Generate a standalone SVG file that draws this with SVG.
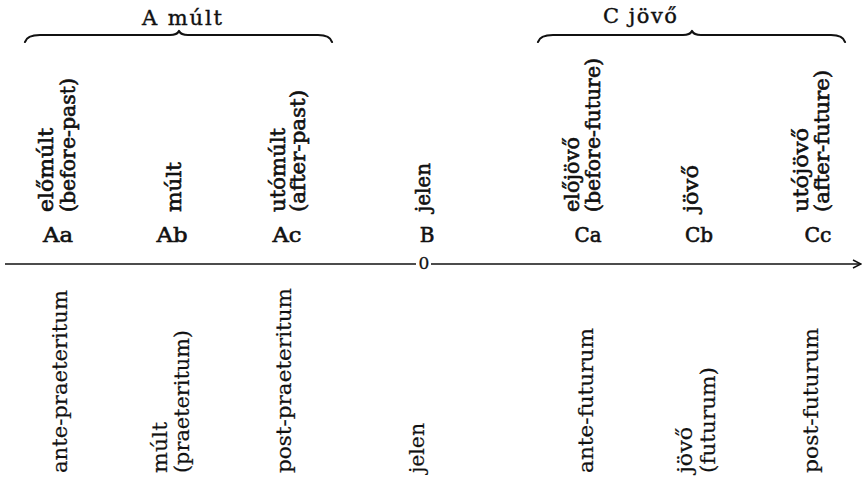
<svg xmlns="http://www.w3.org/2000/svg" width="863" height="479" viewBox="0 0 863 479">
  <style>
    text { font-family: "DejaVu Serif", "Liberation Serif", serif; fill: #111; }
    .title { font-size: 21px; stroke: #111; stroke-width: 0.4; }
    .up { font-size: 20px; stroke: #111; stroke-width: 0.6; }
    .code { font-size: 20px; stroke: #111; stroke-width: 0.6; text-anchor: middle; }
    .low { font-size: 20px; stroke: #111; stroke-width: 0.2; }
    .zero { font-size: 17px; text-anchor: middle; stroke: #111; stroke-width: 0.3; }
    .brace { fill: none; stroke: #111; stroke-width: 2.2; stroke-linejoin: round; stroke-linecap: round; }
    .axis { fill: none; stroke: #111; stroke-width: 1.5; }
  </style>
  <defs>
    <marker id="arrow" viewBox="0 0 10 10" refX="9" refY="5" markerWidth="10" markerHeight="10" markerUnits="userSpaceOnUse" orient="auto">
      <path d="M1,1 L9,5 L1,9" fill="none" stroke="#111" stroke-width="1.5"/>
    </marker>
  </defs>
  <rect width="863" height="479" fill="#fff"/>

  <!-- group headings with braces -->
  <g id="group-A">
    <text class="title" x="142" y="25" textLength="80" lengthAdjust="spacing">A múlt</text>
    <path class="brace" d="M25,42 Q27,35 40,35 L170,35 Q177,35 179,31 Q181,35 188,35 L318,35 Q330,35 332,42"/>
  </g>
  <g id="group-C">
    <text class="title" x="603" y="23" textLength="74" lengthAdjust="spacing">C jövő</text>
    <path class="brace" d="M538,42 Q540,35 553,35 L683,35 Q690,35 692,31 Q694,35 701,35 L831,35 Q843,35 845,42"/>
  </g>

  <!-- time axis -->
  <g id="connectors">
    <line class="axis" x1="5" y1="264" x2="416" y2="264"/>
    <line class="axis" x1="431" y1="264" x2="861" y2="264" marker-end="url(#arrow)"/>
  </g>
  <text class="zero" x="424" y="269">0</text>

  <!-- Aa -->
  <g id="node-Aa">
    <text class="up" transform="translate(53,212) rotate(-90)"><tspan x="0" y="0" textLength="84" lengthAdjust="spacingAndGlyphs">előmúlt</tspan><tspan x="0" y="22" textLength="134" lengthAdjust="spacingAndGlyphs">(before-past)</tspan></text>
    <text class="code" x="58" y="242" textLength="30" lengthAdjust="spacingAndGlyphs">Aa</text>
    <text class="low" transform="translate(67,473) rotate(-90)" textLength="183" lengthAdjust="spacingAndGlyphs">ante-praeteritum</text>
  </g>
  <!-- Ab -->
  <g id="node-Ab">
    <text class="up" transform="translate(181,212) rotate(-90)" textLength="50" lengthAdjust="spacingAndGlyphs">múlt</text>
    <text class="code" x="172" y="242" textLength="31" lengthAdjust="spacingAndGlyphs">Ab</text>
    <text class="low" transform="translate(167,473) rotate(-90)"><tspan x="0" y="0" textLength="51" lengthAdjust="spacingAndGlyphs">múlt</tspan><tspan x="0" y="22" textLength="143" lengthAdjust="spacingAndGlyphs">(praeteritum)</tspan></text>
  </g>
  <!-- Ac -->
  <g id="node-Ac">
    <text class="up" transform="translate(285,212) rotate(-90)"><tspan x="0" y="0" textLength="84" lengthAdjust="spacingAndGlyphs">utómúlt</tspan><tspan x="0" y="20" textLength="122" lengthAdjust="spacingAndGlyphs">(after-past)</tspan></text>
    <text class="code" x="287" y="242" textLength="29" lengthAdjust="spacingAndGlyphs">Ac</text>
    <text class="low" transform="translate(291,473) rotate(-90)" textLength="185" lengthAdjust="spacingAndGlyphs">post-praeteritum</text>
  </g>
  <!-- B -->
  <g id="node-B">
    <text class="up" transform="translate(430,212) rotate(-90)" textLength="49" lengthAdjust="spacingAndGlyphs">jelen</text>
    <text class="code" x="427" y="242">B</text>
    <text class="low" transform="translate(424,473) rotate(-90)" textLength="50" lengthAdjust="spacingAndGlyphs">jelen</text>
  </g>
  <!-- Ca -->
  <g id="node-Ca">
    <text class="up" transform="translate(579,212) rotate(-90)"><tspan x="0" y="0" textLength="75" lengthAdjust="spacingAndGlyphs">előjövő</tspan><tspan x="0" y="21" textLength="154" lengthAdjust="spacingAndGlyphs">(before-future)</tspan></text>
    <text class="code" x="588" y="242" textLength="27" lengthAdjust="spacingAndGlyphs">Ca</text>
    <text class="low" transform="translate(593,473) rotate(-90)" textLength="145" lengthAdjust="spacingAndGlyphs">ante-futurum</text>
  </g>
  <!-- Cb -->
  <g id="node-Cb">
    <text class="up" transform="translate(698,212) rotate(-90)" textLength="47" lengthAdjust="spacingAndGlyphs">jövő</text>
    <text class="code" x="699" y="242" textLength="28" lengthAdjust="spacingAndGlyphs">Cb</text>
    <text class="low" transform="translate(692,473) rotate(-90)"><tspan x="0" y="0" textLength="46" lengthAdjust="spacingAndGlyphs">jövő</tspan><tspan x="0" y="23" textLength="106" lengthAdjust="spacingAndGlyphs">(futurum)</tspan></text>
  </g>
  <!-- Cc -->
  <g id="node-Cc">
    <text class="up" transform="translate(808,212) rotate(-90)"><tspan x="0" y="0" textLength="84" lengthAdjust="spacingAndGlyphs">utójövő</tspan><tspan x="0" y="21" textLength="142" lengthAdjust="spacingAndGlyphs">(after-future)</tspan></text>
    <text class="code" x="818" y="242" textLength="27" lengthAdjust="spacingAndGlyphs">Cc</text>
    <text class="low" transform="translate(818,473) rotate(-90)" textLength="145" lengthAdjust="spacingAndGlyphs">post-futurum</text>
  </g>
</svg>
